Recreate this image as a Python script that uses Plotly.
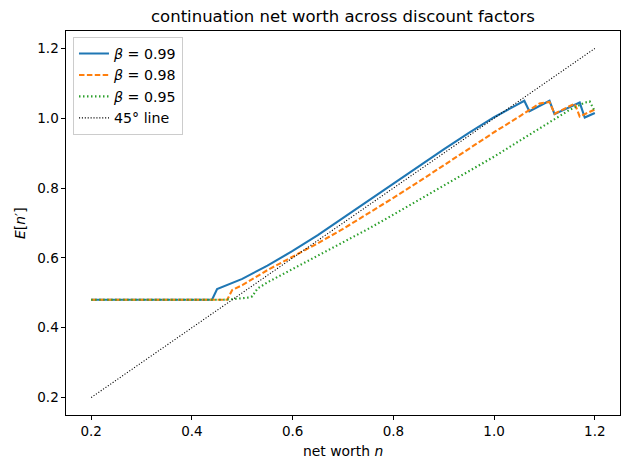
import plotly.graph_objects as go

# ---- data ----
n_b99 = [0.20, 0.44, 0.45, 0.50, 0.55, 0.60, 0.65, 0.70, 0.75, 0.80, 0.85, 0.90, 0.95, 1.00,
         1.06, 1.07, 1.11, 1.12, 1.17, 1.18, 1.20]
E_b99 = [0.480, 0.480, 0.511, 0.540, 0.578, 0.620, 0.665, 0.714, 0.764, 0.814, 0.863, 0.911, 0.958, 1.003,
         1.050, 1.020, 1.050, 1.012, 1.045, 1.002, 1.015]

n_b98 = [0.20, 0.47, 0.48, 0.50, 0.55, 0.60, 0.65, 0.70, 0.75, 0.80, 0.85, 0.90, 0.95, 1.00,
         1.05, 1.09, 1.11, 1.12, 1.16, 1.17, 1.20]
E_b98 = [0.480, 0.480, 0.508, 0.522, 0.565, 0.603, 0.642, 0.683, 0.727, 0.772, 0.818, 0.866, 0.913, 0.960,
         1.005, 1.042, 1.047, 1.013, 1.042, 1.005, 1.025]

n_b95 = [0.20, 0.46, 0.49, 0.51, 0.52, 0.53, 0.55, 0.60, 0.65, 0.70, 0.75, 0.80, 0.85, 0.90, 0.95,
         1.00, 1.05, 1.10, 1.15, 1.18, 1.19, 1.20]
E_b95 = [0.480, 0.480, 0.483, 0.486, 0.490, 0.512, 0.530, 0.568, 0.605, 0.643, 0.683, 0.724, 0.766, 0.808, 0.850,
         0.890, 0.935, 0.980, 1.024, 1.045, 1.048, 1.020]

line45 = [0.2, 1.2]

labels = ["<i>β</i> = 0.99", "<i>β</i> = 0.98", "<i>β</i> = 0.95", "45° line"]
ticks = [0.2, 0.4, 0.6, 0.8, 1.0, 1.2]

FONT = "DejaVu Sans"

fig = go.Figure()
fig.add_trace(go.Scatter(x=n_b99, y=E_b99, mode="lines", name=labels[0],
                         line=dict(color="#1f77b4", width=2.1)))
fig.add_trace(go.Scatter(x=n_b98, y=E_b98, mode="lines", name=labels[1],
                         line=dict(color="#ff7f0e", width=2.1, dash="5.5px,2.4px")))
fig.add_trace(go.Scatter(x=n_b95, y=E_b95, mode="lines", name=labels[2],
                         line=dict(color="#2ca02c", width=2.1, dash="1.5px,2.5px")))
fig.add_trace(go.Scatter(x=line45, y=line45, mode="lines", name=labels[3],
                         line=dict(color="black", width=1.1, dash="1.1px,1.8px")))

axis_common = dict(
    showgrid=False, zeroline=False, showline=True, mirror=True,
    linecolor="black", linewidth=1.1,
    ticks="outside", ticklen=3.5, tickwidth=1.1, tickcolor="black",
    tickvals=ticks, tickformat=".1f",
    tickfont=dict(family=FONT, size=13.5, color="black"),
)

fig.update_layout(
    width=630, height=470,
    margin=dict(l=66, r=10, t=31, b=55),
    paper_bgcolor="white", plot_bgcolor="white",
    font=dict(family=FONT, color="black"),
    xaxis=dict(range=[0.15, 1.25], **axis_common),
    yaxis=dict(range=[0.15, 1.25], **axis_common),
    title=dict(text="continuation net worth across discount factors",
               font=dict(family=FONT, size=16.5, color="black"),
               x=0.5, xref="paper", xanchor="center",
               y=1 - 16 / 470, yref="container", yanchor="middle"),
    legend=dict(x=0.0126, y=0.985, xanchor="left", yanchor="top",
                bgcolor="rgba(255,255,255,0.8)", bordercolor="#cccccc", borderwidth=1,
                font=dict(family=FONT, size=14.2, color="black"),
                itemwidth=30, tracegroupgap=0),
    showlegend=True,
    annotations=[
        dict(text="net worth <i>n</i>", x=0.5, y=(415.5 - 452) / 384.5,
             xref="paper", yref="paper", xanchor="center", yanchor="middle",
             showarrow=False, font=dict(family=FONT, size=13.9, color="black")),
        dict(text="<i>E</i>[<i>n</i>′]", x=(20 - 66) / 554, y=0.5,
             xref="paper", yref="paper", xanchor="center", yanchor="middle",
             textangle=-90, showarrow=False, font=dict(family=FONT, size=13.9, color="black")),
    ],
)

fig.write_html("out.html")
